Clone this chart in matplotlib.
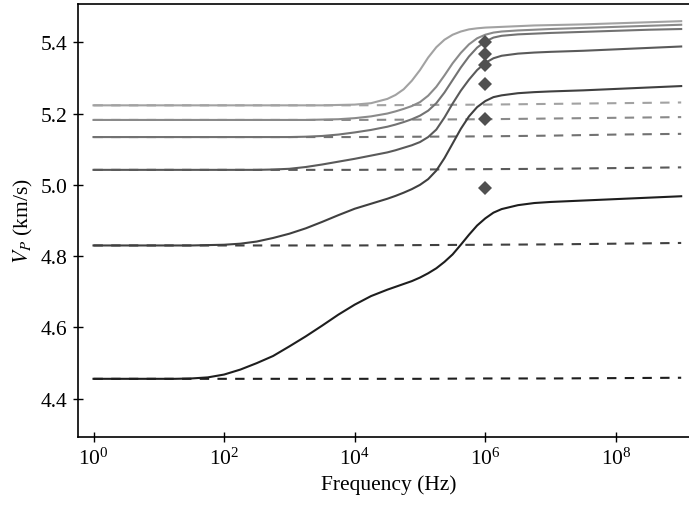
import numpy as np
import matplotlib
matplotlib.use("Agg")
import matplotlib.pyplot as plt

plt.rcParams['font.family'] = ['Liberation Serif', 'DejaVu Serif']
plt.rcParams['mathtext.fontset'] = 'stix'
plt.rcParams['font.size'] = 15.5

# log10 of frequency (Hz) at which curves were read
log_f = [0, 0.5, 1, 1.25, 1.5, 1.75, 2, 2.25, 2.5, 2.75,
         3, 3.25, 3.5, 3.75, 4, 4.25, 4.5, 4.625, 4.75, 4.875,
         5, 5.125, 5.25, 5.375, 5.5, 5.625, 5.75, 5.875, 6, 6.125,
         6.25, 6.5, 6.75, 7, 7.5, 8, 8.5, 9]

vp_1 = [5.223, 5.223, 5.223, 5.223, 5.223, 5.223, 5.223, 5.223, 5.223, 5.223,
        5.223, 5.223, 5.223, 5.224, 5.225, 5.229, 5.241, 5.252, 5.268, 5.292,
        5.322, 5.357, 5.386, 5.407, 5.421, 5.430, 5.436, 5.439, 5.441, 5.442,
        5.443, 5.445, 5.447, 5.448, 5.450, 5.453, 5.456, 5.459]
vp_2 = [5.182, 5.182, 5.182, 5.182, 5.182, 5.182, 5.182, 5.182, 5.182, 5.182,
        5.182, 5.182, 5.183, 5.184, 5.187, 5.192, 5.200, 5.206, 5.213, 5.221,
        5.232, 5.250, 5.275, 5.307, 5.341, 5.370, 5.394, 5.411, 5.421, 5.427,
        5.430, 5.433, 5.435, 5.437, 5.440, 5.443, 5.446, 5.449]
vp_3 = [5.134, 5.134, 5.134, 5.134, 5.134, 5.134, 5.134, 5.134, 5.134, 5.134,
        5.134, 5.135, 5.137, 5.141, 5.147, 5.154, 5.163, 5.169, 5.176, 5.184,
        5.194, 5.208, 5.229, 5.259, 5.294, 5.329, 5.360, 5.385, 5.402, 5.413,
        5.418, 5.422, 5.424, 5.426, 5.429, 5.432, 5.435, 5.437]
vp_4 = [5.042, 5.042, 5.042, 5.042, 5.042, 5.042, 5.042, 5.042, 5.042, 5.043,
        5.045, 5.050, 5.057, 5.065, 5.073, 5.082, 5.091, 5.097, 5.104, 5.111,
        5.120, 5.134, 5.155, 5.189, 5.228, 5.264, 5.295, 5.322, 5.342, 5.355,
        5.362, 5.368, 5.371, 5.373, 5.376, 5.380, 5.384, 5.388]
vp_5 = [4.830, 4.830, 4.830, 4.830, 4.830, 4.831, 4.832, 4.835, 4.841, 4.851,
        4.863, 4.878, 4.896, 4.915, 4.933, 4.947, 4.961, 4.969, 4.978, 4.988,
        5.000, 5.016, 5.040, 5.075, 5.116, 5.157, 5.192, 5.218, 5.235, 5.246,
        5.251, 5.257, 5.260, 5.262, 5.265, 5.269, 5.273, 5.277]
vp_6 = [4.456, 4.456, 4.456, 4.456, 4.457, 4.460, 4.468, 4.482, 4.500, 4.520,
        4.547, 4.575, 4.605, 4.636, 4.664, 4.688, 4.706, 4.714, 4.722, 4.730,
        4.740, 4.752, 4.766, 4.784, 4.805, 4.832, 4.860, 4.886, 4.906, 4.922,
        4.932, 4.943, 4.949, 4.952, 4.956, 4.960, 4.964, 4.968]

# dashed (relaxed) curves
log_f_d = [0, 2, 4, 5, 6, 7, 8, 9]
vd_1 = [5.223, 5.223, 5.223, 5.224, 5.225, 5.227, 5.229, 5.231]
vd_2 = [5.182, 5.182, 5.182, 5.183, 5.184, 5.186, 5.188, 5.190]
vd_3 = [5.134, 5.134, 5.134, 5.135, 5.136, 5.138, 5.141, 5.143]
vd_4 = [5.042, 5.042, 5.042, 5.043, 5.044, 5.045, 5.047, 5.049]
vd_5 = [4.830, 4.830, 4.830, 4.831, 4.832, 4.833, 4.835, 4.837]
vd_6 = [4.456, 4.456, 4.456, 4.456, 4.457, 4.457, 4.458, 4.459]

# measured points
meas_f = [1e6, 1e6, 1e6, 1e6, 1e6, 1e6]
meas_vp = [5.400, 5.368, 5.336, 5.282, 5.185, 4.991]

colors = ['#a2a2a2', '#8a8a8a', '#727272', '#5a5a5a', '#404040', '#1e1e1e']

fig = plt.figure(figsize=(6.89, 5.10), dpi=100)
ax = fig.add_axes([77.7 / 689, 71.7 / 510, (700 - 77.7) / 689, 433.6 / 510])

f = 10.0 ** np.array(log_f)
fd = 10.0 ** np.array(log_f_d)
solids = [vp_1, vp_2, vp_3, vp_4, vp_5, vp_6]
dashes = [vd_1, vd_2, vd_3, vd_4, vd_5, vd_6]
for vd, c in zip(dashes, colors):
    ax.plot(fd, vd, color=c, lw=1.5, ls=(0, (4.5, 4.0)))
for v, c in zip(solids, colors):
    ax.plot(f, v, color=c, lw=1.5, solid_joinstyle='round')

ax.plot(meas_f, meas_vp, 'D', color='#505050', markersize=6.8, mew=0, zorder=5)

ax.set_xscale('log')
ax.set_xlim(10 ** -0.242, 10 ** 9.288)
ax.set_ylim(4.292, 5.508)
ax.set_xticks([1e0, 1e2, 1e4, 1e6, 1e8])
ax.minorticks_off()
ax.set_yticks([4.4, 4.6, 4.8, 5.0, 5.2, 5.4])
ax.tick_params(direction='inout', length=7.5, width=1.0)
ax.spines['right'].set_visible(False)
for s in ['left', 'bottom', 'top']:
    ax.spines[s].set_linewidth(1.2)

ax.set_xlabel('Frequency (Hz)')
ax.set_ylabel('$V_P$ (km/s)')

fig.savefig('out.png', dpi=100)
